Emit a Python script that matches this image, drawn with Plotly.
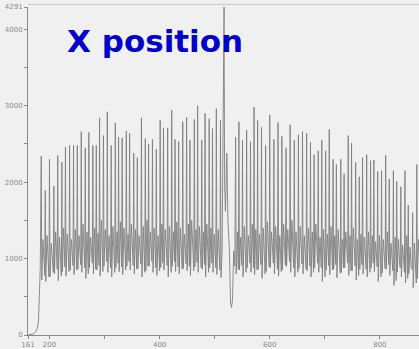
import plotly.graph_objects as go

# ---- data ----
start_x = [161, 166, 171, 175, 178, 180, 181.5, 182.5, 183.3]
start_y = [0, 5, 15, 40, 90, 180, 400, 700, 900]

left_peak_x = [185, 192.3, 200, 208, 215, 222.5, 229, 236.5, 243.7, 250.5,
               257.7, 265, 271.5, 278.8, 285, 291, 298, 305, 312, 319.5,
               325.5, 332, 339.5, 345.5, 353, 359.5, 367, 374, 380, 387,
               394, 401, 407, 414.6, 422, 428, 434.6, 442, 449, 455,
               463, 469, 476.5, 482.5, 490, 496, 503, 510.5]
left_peak_y = [2340, 1890, 2300, 1950, 2350, 2260, 2460, 2480, 2480, 2480,
               2660, 2450, 2650, 2480, 2480, 2840, 2610, 2920, 2480, 2775,
               2590, 2580, 2670, 2640, 2380, 2320, 2840, 2570, 2500, 2560,
               2430, 2810, 2710, 2710, 2940, 2560, 2530, 2790, 2850, 2550,
               2820, 3000, 2550, 2900, 2830, 2700, 2960, 2810]
left_trough_y = [720, 700, 760, 800, 710, 830, 770, 850, 790, 860,
                 820, 740, 880, 800, 850, 770, 900, 820, 760, 880,
                 830, 790, 900, 850, 800, 870, 760, 840, 900, 820,
                 780, 880, 850, 760, 900, 830, 800, 870, 840, 780,
                 890, 820, 860, 760, 880, 820, 790, 750]
left_bump_y = [1250, 1300, 1200, 1350, 1280, 1400, 1320, 1250, 1380, 1300,
               1450, 1350, 1280, 1400, 1330, 1500, 1380, 1300, 1420, 1350,
               1480, 1400, 1320, 1450, 1380, 1300, 1420, 1500, 1350, 1400,
               1300, 1450, 1380, 1420, 1350, 1480, 1400, 1320, 1450, 1500,
               1380, 1420, 1350, 1450, 1400, 1320, 1380, 1300]
left_dip_y = [950, 1000, 980, 1050, 1000, 1080, 1020, 990, 1060, 1010,
              1100, 1040, 980, 1070, 1030, 1120, 1050, 1000, 1090, 1040,
              1110, 1060, 1010, 1080, 1050, 990, 1070, 1120, 1030, 1060,
              1000, 1090, 1050, 1080, 1020, 1110, 1060, 1000, 1080, 1120,
              1040, 1070, 1030, 1090, 1060, 1010, 1040, 1000]

spike_x = [513.5, 515.5, 517, 518, 519.5, 522, 524, 526.5, 528.8, 530.5, 532.3, 534.5, 536.5]
spike_y = [1100, 3090, 4291, 2000, 1620, 2380, 1500, 1150, 420, 360, 450, 1100, 900]

right_peak_x = [538, 544, 550.5, 558, 565, 571.5, 578, 585,
                592.5, 600, 607.5, 615, 622, 629.5, 637, 644.5, 652,
                659.5, 667, 674, 680.5, 688, 694.5, 701.5, 708, 715, 721,
                729, 735, 742.5, 748.5, 756, 762.5, 768.5, 776, 783, 789,
                796, 803, 810.5, 817, 824.5, 830.5, 838, 845.5, 851.5, 859.5,
                867]
right_peak_y = [2590, 2790, 2550, 2680, 2530, 2980, 2810, 2720,
                2480, 2880, 2560, 2780, 2600, 2450, 2750, 2550, 2620,
                2660, 2640, 2520, 2360, 2410, 2550, 2410, 2690, 2300, 2230,
                2300, 2110, 2610, 2510, 2260, 2070, 2320, 2360, 2280, 2290,
                2140, 2150, 2350, 2040, 2150, 2010, 1940, 2150, 1700, 1600,
                2230]
right_trough_y = [800, 850, 760, 880, 820, 790, 860, 740,
                  830, 880, 800, 770, 850, 900, 820, 760, 870,
                  800, 840, 760, 880, 820, 700, 850, 790, 860, 750,
                  820, 880, 780, 840, 720, 860, 800, 760, 880, 830,
                  700, 810, 860, 780, 650, 820, 760, 680, 800, 620,
                  740]
right_bump_y = [1350, 1280, 1420, 1300, 1450, 1380, 1320, 1400,
                1480, 1350, 1420, 1300, 1450, 1380, 1500, 1350, 1420,
                1300, 1400, 1350, 1450, 1280, 1380, 1320, 1420, 1300, 1380,
                1250, 1350, 1300, 1400, 1250, 1320, 1280, 1350, 1300, 1220,
                1300, 1250, 1350, 1200, 1280, 1250, 1180, 1300, 1150, 1200,
                1250]
right_dip_y = [1040, 990, 1080, 1020, 1100, 1050, 1000, 1060,
               1120, 1030, 1080, 1000, 1090, 1050, 1110, 1030, 1070,
               990, 1060, 1020, 1090, 980, 1040, 1000, 1070, 990, 1040,
               960, 1020, 990, 1050, 950, 1000, 980, 1020, 990, 940,
               980, 950, 1010, 920, 970, 940, 900, 980, 880, 920,
               950]

x_ticks = [161, 200, 400, 600, 800, 871]
y_ticks = [0, 1000, 2000, 3000, 4000, 4291]
x_minor = [300, 500, 700]
y_minor = [500, 1500, 2500, 3500]

for a, b in [(left_peak_x, left_peak_y), (left_peak_x, left_trough_y),
             (left_peak_x, left_bump_y), (left_peak_x, left_dip_y),
             (right_peak_x, right_peak_y), (right_peak_x, right_trough_y),
             (right_peak_x, right_bump_y), (right_peak_x, right_dip_y)]:
    assert len(a) == len(b), (len(a), len(b))


def build(px, py, ty, by, dy, last_full):
    xs, ys = [], []
    n = len(px)
    for i in range(n):
        xs.append(px[i]); ys.append(py[i])
        xs.append(px[i] + 1.0); ys.append(ty[i])
        if i < n - 1 or last_full:
            xs.append(px[i] + 3.2); ys.append(by[i])
            xs.append(px[i] + 5.2); ys.append(dy[i])
            nxt = px[i + 1] if i < n - 1 else px[i] + 7
            xs.append(nxt - 1.0); ys.append(ty[i] + 60)
    return xs, ys


X, Y = list(start_x), list(start_y)
lx, ly = build(left_peak_x, left_peak_y, left_trough_y, left_bump_y, left_dip_y, False)
X += lx; Y += ly
X += spike_x; Y += spike_y
rx, ry = build(right_peak_x, right_peak_y, right_trough_y, right_bump_y, right_dip_y, True)
X += rx; Y += ry

fig = go.Figure()
fig.add_trace(go.Scatter(x=X, y=Y, mode="lines",
                         line=dict(color="#808080", width=0.9),
                         hoverinfo="skip", showlegend=False))

axis_common = dict(showgrid=False, zeroline=False, showline=True,
                   linecolor="#8a8a8a", linewidth=1, ticks="outside",
                   ticklen=3, tickcolor="#8a8a8a",
                   tickfont=dict(family="DejaVu Sans", size=7, color="#8a8a8a"))

fig.update_layout(
    width=419, height=349,
    margin=dict(l=28, r=0, t=7, b=11),
    paper_bgcolor="#f0f0f0", plot_bgcolor="#f0f0f0",
    xaxis=dict(range=[161, 871], tickvals=x_ticks,
               ticktext=[str(v) for v in x_ticks],
               minor=dict(tickvals=x_minor, ticks="outside", ticklen=3,
                          tickcolor="#8a8a8a"),
               **axis_common),
    yaxis=dict(range=[0, 4291], tickvals=y_ticks,
               ticktext=[str(v) for v in y_ticks],
               minor=dict(tickvals=y_minor, ticks="outside", ticklen=3,
                          tickcolor="#8a8a8a"),
               **axis_common),
    shapes=[dict(type="line", xref="paper", yref="paper", x0=0, x1=1,
                 y0=1.008, y1=1.008, line=dict(color="#c8c8c8", width=1))],
    annotations=[dict(text="<b>X position</b>", xref="paper", yref="paper",
                      x=0.095, y=0.957, xanchor="left", yanchor="top",
                      showarrow=False,
                      font=dict(family="DejaVu Sans", size=31, color="#0000cc"))],
)

fig.write_html("out.html")
